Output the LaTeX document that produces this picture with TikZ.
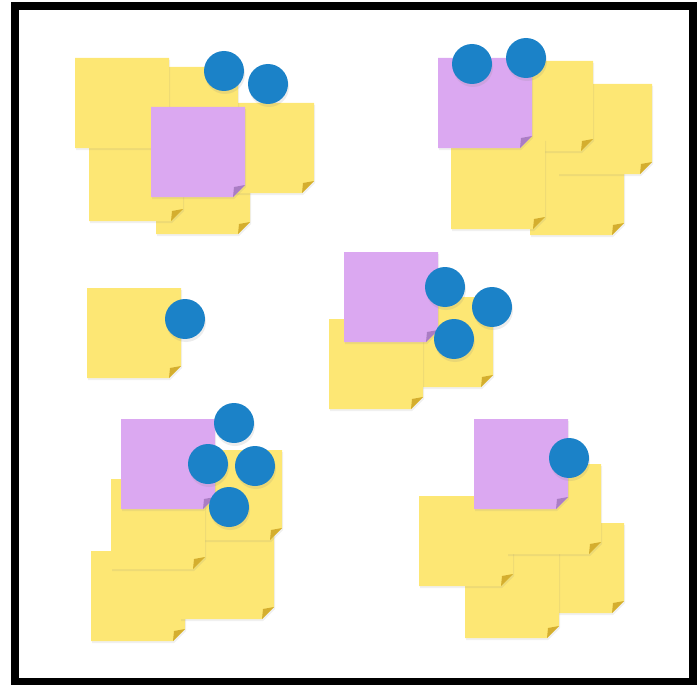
\documentclass[tikz,border=0pt]{standalone}
\usetikzlibrary{shadows}
\definecolor{NoteClr}{rgb}{0.992,0.906,0.455}
\definecolor{NoteFoldClr}{rgb}{0.831,0.682,0.184}
\definecolor{PurpleClr}{rgb}{0.859,0.659,0.945}
\definecolor{PurpleFoldClr}{rgb}{0.667,0.490,0.769}
\definecolor{DotClr}{rgb}{0.106,0.510,0.784}

\begin{document}
\begin{tikzpicture}[x=1pt,y=-1pt,
  note/.style={drop shadow={opacity=0.12,shadow xshift=1pt,shadow yshift=-2pt}},
  dot/.style={circle,fill=DotClr,minimum size=40pt,inner sep=0pt,
    drop shadow={opacity=0.15,shadow xshift=1pt,shadow yshift=-3pt}}]

\useasboundingbox (0,0) rectangle (697,685);

% Draw the frame.
\draw[line width=8pt] (15,6.5) rectangle (692.5,681.5);

% Draw the notes, from the back to the front of each group.
\foreach \x/\y/\c/\f in {
  156/144/NoteClr/NoteFoldClr, 220/103/NoteClr/NoteFoldClr, 144/67/NoteClr/NoteFoldClr,
  89/131/NoteClr/NoteFoldClr, 75/58/NoteClr/NoteFoldClr, 151/107/PurpleClr/PurpleFoldClr,
  530/145/NoteClr/NoteFoldClr, 558/84/NoteClr/NoteFoldClr, 499/61/NoteClr/NoteFoldClr,
  451/139/NoteClr/NoteFoldClr, 438/58/PurpleClr/PurpleFoldClr,
  87/288/NoteClr/NoteFoldClr,
  399/297/NoteClr/NoteFoldClr, 329/319/NoteClr/NoteFoldClr, 344/252/PurpleClr/PurpleFoldClr,
  91/551/NoteClr/NoteFoldClr, 180/529/NoteClr/NoteFoldClr, 188/450/NoteClr/NoteFoldClr,
  111/479/NoteClr/NoteFoldClr, 121/419/PurpleClr/PurpleFoldClr,
  530/523/NoteClr/NoteFoldClr, 465/548/NoteClr/NoteFoldClr, 419/496/NoteClr/NoteFoldClr,
  507/464/NoteClr/NoteFoldClr, 474/419/PurpleClr/PurpleFoldClr}
{
  \fill[note,\c] (\x,\y) -- ++(94,0) -- ++(0,78) -- ++(-12,12) -- ++(-82,0) -- cycle;
  \fill[\f] (\x+94,\y+78) -- (\x+82,\y+90) -- (\x+83,\y+80) -- cycle;
}

% Draw the dots on top.
\foreach \x/\y [count=\i] in {224/71, 268/84, 472/64, 526/58, 185/319,
  445/287, 492/307, 454/339, 234/423, 208/464, 255/466, 229/507, 569/458}
  \node[dot] (dot\i) at (\x,\y) {};

\end{tikzpicture}
\end{document}
